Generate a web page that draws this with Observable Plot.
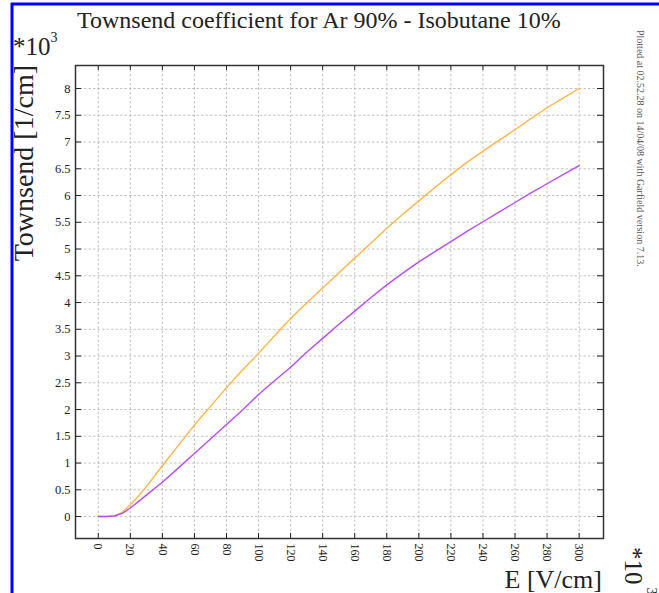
<!DOCTYPE html>
<html><head><meta charset="utf-8">
<script src="https://cdn.jsdelivr.net/npm/d3@7"></script>
<script src="https://cdn.jsdelivr.net/npm/@observablehq/plot@0.6"></script>
<style>
body{margin:0;background:#fff}
svg{display:block}
svg text, svg tspan{font-family:"Liberation Serif","Times New Roman",serif !important}
</style>
</head><body><div id="chart"></div>
<script>
// Electric field E [V/cm] (axis multiplied by 10^3)
const E = [0,5,10,15,20,25,30,40,50,60,70,80,90,100,110,120,130,140,150,160,170,180,190,200,210,220,230,240,250,260,270,280,290,300];
// Townsend coefficient [1/cm] (x 10^3), orange curve
const townsendOrange = [0,0,0.01,0.08,0.22,0.38,0.56,0.95,1.33,1.71,2.06,2.41,2.74,3.05,3.38,3.70,3.99,4.27,4.55,4.83,5.11,5.39,5.65,5.90,6.15,6.39,6.62,6.83,7.03,7.23,7.44,7.64,7.82,8.00];
// Townsend coefficient [1/cm] (x 10^3), purple curve
const townsendPurple = [0,0,0.01,0.06,0.16,0.28,0.40,0.64,0.91,1.18,1.45,1.72,1.99,2.28,2.54,2.79,3.07,3.33,3.59,3.84,4.09,4.33,4.55,4.76,4.95,5.14,5.33,5.51,5.69,5.87,6.05,6.22,6.39,6.56];
const xTicks = [0,20,40,60,80,100,120,140,160,180,200,220,240,260,280,300];
const yTicks = [0,0.5,1,1.5,2,2.5,3,3.5,4,4.5,5,5.5,6,6.5,7,7.5,8];
const title = "Townsend coefficient for Ar 90% - Isobutane 10%";
const yLabel = "Townsend [1/cm]";
const xLabel = "E [V/cm]";
const stamp = "Plotted at 02.52.28 on 14/04/08 with Garfield version 7.13.";

const W = 659, H = 593, mL = 75, mR = 56, mT = 65, mB = 55;
const fw = W - mL - mR, fh = H - mT - mB;
const serif = "'Liberation Serif', 'Times New Roman', serif";
const gridStyle = {stroke: "#b4b4b4", strokeOpacity: 1, strokeDasharray: "2.5,2", strokeWidth: 0.8};

const plot = Plot.plot({
  width: W, height: H,
  marginLeft: mL, marginRight: mR, marginTop: mT, marginBottom: mB,
  style: {fontFamily: serif, background: "white", color: "#222"},
  x: {domain: [-14.2, 315.2]},
  y: {domain: [-0.41, 8.43]},
  marks: [
    Plot.gridX(xTicks, gridStyle),
    Plot.gridY(yTicks, gridStyle),
    Plot.line(E, {x: E, y: townsendOrange, stroke: "#ffb547", strokeWidth: 1.4}),
    Plot.line(E, {x: E, y: townsendPurple, stroke: "#b94cf8", strokeWidth: 1.4}),
    Plot.tickX(xTicks, {x: d => d, insetTop: fh - 5, stroke: "#222"}),
    Plot.tickX(xTicks, {x: d => d, insetBottom: fh - 5, stroke: "#222"}),
    Plot.tickY(yTicks, {y: d => d, insetRight: fw - 6, stroke: "#222"}),
    Plot.tickY(yTicks, {y: d => d, insetLeft: fw - 6, stroke: "#222"}),
    Plot.frame({stroke: "#333", strokeWidth: 1.5}),
    Plot.axisX(xTicks, {tickSize: 0, tickRotate: 90, tickPadding: 5, fontSize: 12, label: null}),
    Plot.axisY(yTicks, {tickSize: 0, tickPadding: 5, fontSize: 12.5, label: null, tickFormat: d => String(d)})
  ]
});

const svg = d3.select(plot);
// blue border lines
svg.append("line").attr("x1", 12).attr("x2", 12).attr("y1", 3).attr("y2", H).attr("stroke", "#0000ff").attr("stroke-width", 3);
svg.append("line").attr("x1", 11).attr("x2", W).attr("y1", 4).attr("y2", 4).attr("stroke", "#0000ff").attr("stroke-width", 3);

const txt = (x, y, s, size, anchor, rot) => {
  const t = svg.append("text").attr("font-family", serif).attr("font-size", size)
    .attr("fill", "#222").attr("text-anchor", anchor || "start");
  if (rot) t.attr("transform", `translate(${x},${y}) rotate(${rot})`);
  else t.attr("x", x).attr("y", y);
  t.text(s);
  return t;
};
txt(77, 28, title, 24);
txt(33, 65, yLabel, 28, "end", -90);
txt(602, 588, xLabel, 26, "end");
// *10^3 top-left
const m1 = txt(13, 55, "*10", 25);
m1.append("tspan").attr("font-size", 14).attr("dy", -13).text("3");
// *10^3 bottom-right (rotated)
const m2 = txt(625, 547, "*10", 25, "start", 90);
m2.append("tspan").attr("font-size", 14).attr("dy", -22).attr("dx", 3).text("3");
// stamp
txt(637, 30, stamp, 10, "start", 90).attr("fill", "#555");

document.getElementById("chart").appendChild(plot);
</script>
</body></html>
